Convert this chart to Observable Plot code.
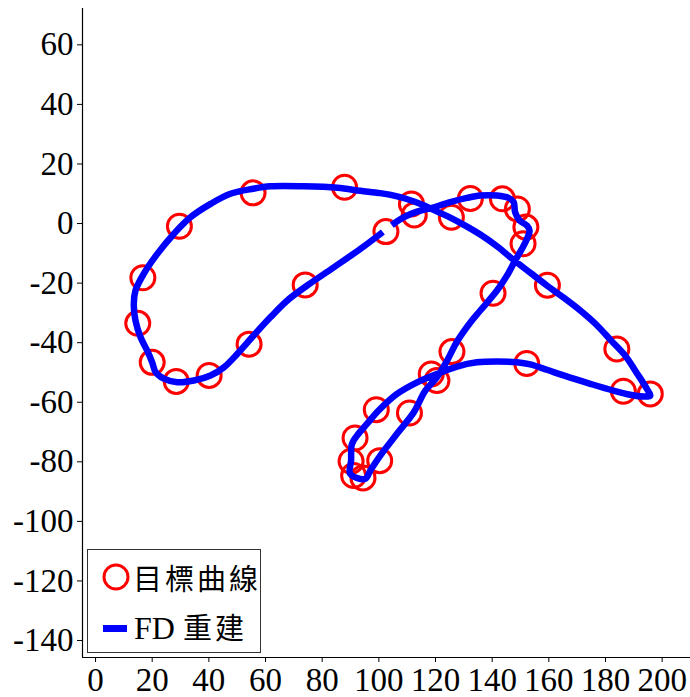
<!DOCTYPE html>
<html><head><meta charset="utf-8">
<script src="https://cdn.jsdelivr.net/npm/d3@7"></script>
<script src="https://cdn.jsdelivr.net/npm/@observablehq/plot@0.6"></script>
<style>
body{margin:0;background:#fff;}
#wrap{position:relative;width:690px;height:697px;}
#legend{position:absolute;left:87px;top:549px;width:174px;height:104px;border:1px solid #333;background:#fff;box-sizing:border-box;font-family:"Liberation Serif","Times New Roman",Times,serif;font-size:32px;color:#000;}
#legend .row{position:absolute;left:0;height:40px;display:flex;align-items:center;white-space:nowrap;line-height:1;}
#legend svg{display:block;}
</style></head><body><div id="wrap"></div>
<script>
// Target curve points (目標曲線)
const targetX = [102.5, 111.5, 112.5, 125.6, 132.3, 143.6, 148.9, 151.9, 150.9, 159.5, 184.0, 186.3, 195.8, 152.2, 140.3, 125.8, 118.5, 120.5, 110.8, 100.3, 94.4, 91.1, 90.2, 91.6, 99.1, 87.9, 55.6, 29.6, 16.7, 14.9, 20.0, 28.5, 40.1, 54.2, 74.0];
const targetY = [-2.7, 6.6, 2.9, 2.1, 8.4, 8.3, 4.9, -1.2, -6.8, -20.7, -42.1, -56.3, -57.2, -47.0, -23.4, -43.0, -50.5, -52.7, -63.6, -79.6, -85.4, -84.6, -79.8, -72.0, -62.5, 12.2, 10.3, -0.9, -18.2, -33.5, -46.6, -53.0, -51.0, -40.5, -20.6];

// FD reconstruction (FD 重建)
const fdX = [105.5, 108.7, 113.5, 118.8, 125.2, 131.1, 135.8, 141.7, 145.8, 147.6, 148.1, 149.7, 152.3, 153.2, 152.3, 150.5, 148.1, 145.2, 141.7, 135.8, 132.3, 127.6, 124.1, 120.5, 116.4, 112.3, 106.4, 100.5, 97.0, 95.2, 89.9, 90.2, 90.5, 92.3, 95.8, 99.9, 106.4, 113.5, 120.5, 127.6, 134.6, 141.7, 148.7, 153.4, 159.3, 165.2, 174.6, 182.8, 188.7, 193.4, 195.8,
  194.6, 191.2, 186.9, 182.0, 176.7, 171.1, 165.1, 159.3, 153.4, 147.4, 141.8, 135.8, 130.5, 125.2, 120.6, 116.4, 112.2, 106.5, 100.5, 93.5, 85.4, 73.4, 61.7, 55.7, 47.6, 40.6, 33.5, 27.6, 21.8, 17.0, 14.1, 13.5, 14.1, 15.9, 18.2, 20.0, 21.2, 24.1, 28.8, 34.7, 40.6, 45.3, 50.0, 55.8, 61.7, 67.6, 74.7, 84.1, 93.5, 100.5];
const fdY = [0.1, 2.1, 4.0, 5.3, 7.2, 8.6, 9.4, 9.4, 8.6, 7.2, 3.8, 1.0, -0.7, -2.4, -5.1, -8.5, -12.4, -17.5, -22.5, -29.2, -33.2, -39.6, -46.0, -51.6, -56.1, -63.4, -70.6, -77.9, -82.9, -85.7, -84.1, -79.6, -74.0, -71.2, -67.3, -62.8, -57.2, -53.3, -50.5, -48.0, -46.6, -46.3, -46.6, -47.3, -49.1, -51.0, -53.8, -56.1, -57.5, -58.1, -57.8,
  -55.5, -50.4, -44.3, -39.3, -33.9, -29.2, -24.8, -20.8, -16.5, -12.1, -7.7, -3.7, -0.7, 2.0, 4.0, 5.9, 7.5, 9.1, 10.2, 11.0, 12.0, 12.5, 12.5, 11.7, 10.0, 6.6, 2.1, -3.5, -10.2, -16.9, -22.5, -27.0, -32.6, -38.2, -42.6, -46.6, -49.9, -52.1, -53.3, -52.7, -51.0, -48.3, -43.8, -37.6, -31.5, -25.9, -20.8, -14.7, -8.5, -3.5];

const xTicks = [0, 20, 40, 60, 80, 100, 120, 140, 160, 180, 200];
const yTicks = [-140, -120, -100, -80, -60, -40, -20, 0, 20, 40, 60];
const legendLabels = ["目標曲線", "FD 重建"];

const xDomain = [-4.6, 210];
const yDomain = [-145.7, 72.2];

const targets = targetX.map((x, i) => ({x, y: targetY[i]}));
const fd = fdX.map((x, i) => ({x, y: fdY[i]}));

const serif = "Liberation Serif, Times New Roman, serif";

const chart = Plot.plot({
  width: 690, height: 697,
  marginLeft: 82, marginRight: 0, marginTop: 8, marginBottom: 40,
  x: {domain: xDomain},
  y: {domain: yDomain},
  style: {background: "#fff", color: "#000", overflow: "visible"},
  marks: [
    Plot.dot(targets, {x: "x", y: "y", r: 12, stroke: "#ff0000", strokeWidth: 3, fill: "none"}),
    Plot.line(fd, {x: "x", y: "y", stroke: "#0000ff", strokeWidth: 6.5, curve: "catmull-rom", strokeLinejoin: "round", strokeLinecap: "square"}),
    Plot.ruleX([xDomain[0]], {stroke: "#000", strokeWidth: 1.2}),
    Plot.ruleY([yDomain[0]], {stroke: "#000", strokeWidth: 1.2}),
    Plot.axisX({ticks: xTicks, tickSize: 5, tickPadding: 5, tickFormat: d => String(d), label: null, fontSize: 33, fontFamily: serif}),
    Plot.axisY({ticks: yTicks, tickSize: 5, tickPadding: 4, tickFormat: d => String(d), label: null, fontSize: 33, fontFamily: serif})
  ]
});

const wrap = document.getElementById("wrap");
wrap.appendChild(chart);

const legend = document.createElement("div");
legend.id = "legend";
legend.innerHTML = `
  <div class="row" style="top:7px;left:13px;">
    <svg width="30" height="30"><circle cx="15" cy="15" r="12" fill="none" stroke="#ff0000" stroke-width="3"/></svg>
    <span style="margin-left:2px;font-family:'Noto Sans CJK TC',sans-serif;font-size:29px;letter-spacing:3px;">${legendLabels[0]}</span>
  </div>
  <div class="row" style="top:58px;left:15px;">
    <svg width="26" height="30"><rect x="0" y="12" width="24" height="7" fill="#0000ff"/></svg>
    <span style="margin-left:5px;">FD <span style="font-family:'Noto Sans CJK TC',sans-serif;font-size:29px;letter-spacing:3px;">${legendLabels[1].slice(3)}</span></span>
  </div>`;
wrap.appendChild(legend);
</script>
</body></html>
